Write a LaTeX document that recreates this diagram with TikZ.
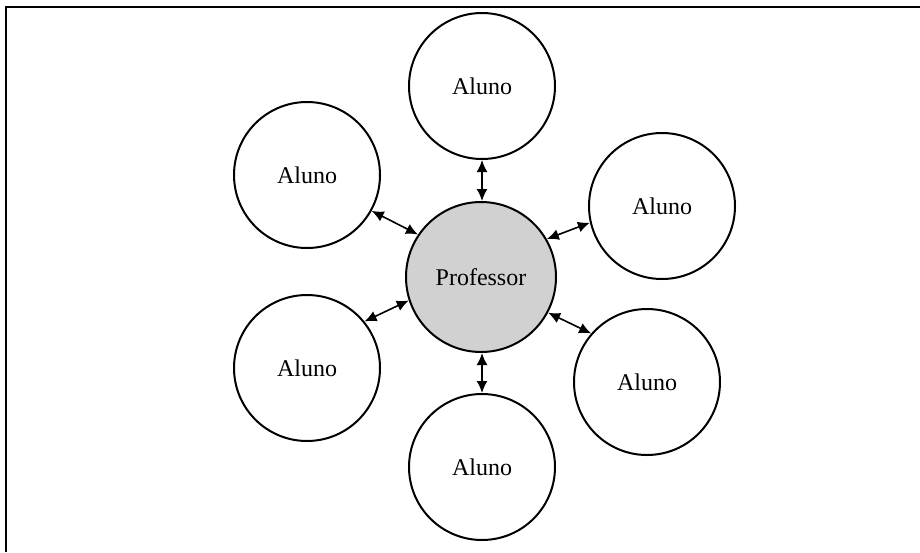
\documentclass[tikz,border=0pt]{standalone}
\usepackage{fontspec}
\setmainfont{Liberation Serif}
\usetikzlibrary{arrows.meta}

\tikzstyle{aluno} = [circle, draw, line width=1pt, minimum size=73pt, inner sep=0pt, font=\fontsize{12}{14}\selectfont]
\tikzstyle{prof} = [aluno, fill=black!18, minimum size=75pt]
\tikzstyle{line} = [draw, line width=0.8pt, {Latex[length=6pt,width=5.5pt]}-{Latex[length=6pt,width=5.5pt]}]

\begin{document}
\begin{tikzpicture}[x=0.5pt, y=-0.5pt]
    \useasboundingbox (0,0) rectangle (920,552);
    \draw [line width=1pt] (6,552) -- (6,7) -- (920,7);

    % Place nodes
    \node [prof] (professor) at (481,277) {Professor};
    \node [aluno] (top) at (482,86) {Aluno};
    \node [aluno] (upleft) at (307,175) {Aluno};
    \node [aluno] (upright) at (662,206) {Aluno};
    \node [aluno] (lowleft) at (307,368) {Aluno};
    \node [aluno] (lowright) at (647,382) {Aluno};
    \node [aluno] (bottom) at (482,467) {Aluno};

    % Draw edges
    \path [line] (top.270) -- (top.270 |- professor.90);
    \path [line] (upleft.-29) -- (professor.146);
    \path [line] (upright.193) -- (professor.30);
    \path [line] (lowleft.39) -- (professor.198);
    \path [line] (lowright.139) -- (professor.-28);
    \path [line] (bottom.90) -- (bottom.90 |- professor.270);
\end{tikzpicture}
\end{document}
